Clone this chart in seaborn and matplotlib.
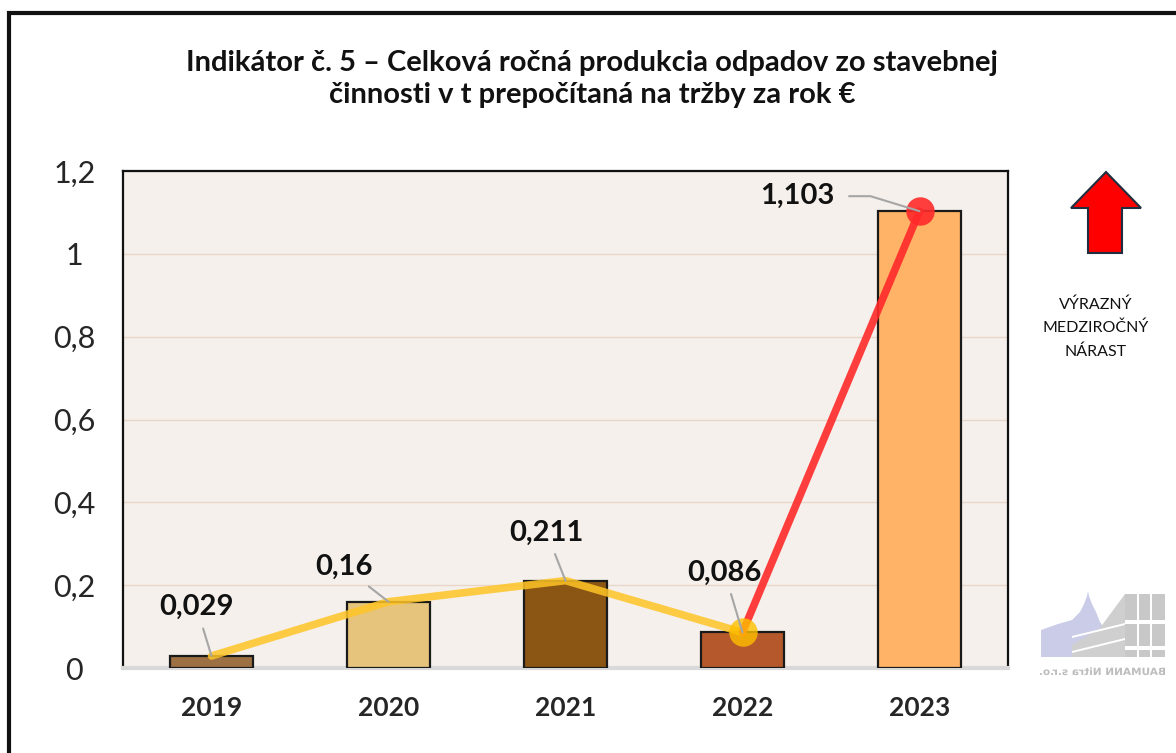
import matplotlib
matplotlib.use("Agg")
import matplotlib.pyplot as plt
import seaborn as sns
import pandas as pd
from matplotlib.patches import Polygon, Rectangle, PathPatch
from matplotlib.textpath import TextPath
from matplotlib.font_manager import FontProperties
from matplotlib.transforms import Affine2D

years = ["2019", "2020", "2021", "2022", "2023"]
values = [0.029, 0.16, 0.211, 0.086, 1.103]
labels = ["0,029", "0,16", "0,211", "0,086", "1,103"]
bar_colors = ["#9C7042", "#E6C47C", "#8B5514", "#B5582B", "#FFB366"]
yticks = [0, 0.2, 0.4, 0.6, 0.8, 1.0, 1.2]
ytick_labels = ["0", "0,2", "0,4", "0,6", "0,8", "1", "1,2"]
title = "Indikátor č. 5 – Celková ročná produkcia odpadov zo stavebnej\nčinnosti v t prepočítaná na tržby za rok €"
side_note = "VÝRAZNÝ\nMEDZIROČNÝ\nNÁRAST"
logo_text = "BAUMANN Nitra s.r.o."

sns.set_theme(style="white")
plt.rcParams["font.family"] = ["Lato", "DejaVu Sans"]

df = pd.DataFrame({"year": years, "value": values})

fig = plt.figure(figsize=(11.76, 7.53), dpi=100)
W, H = 1176, 753
ax = fig.add_axes([123 / W, 1 - 668 / H, (1008 - 123) / W, (668 - 171) / H])
ax.set_facecolor("#F5F0EB")

sns.barplot(data=df, x="year", y="value", hue="year", palette=bar_colors,
            legend=False, edgecolor="#1a1a1a", linewidth=1.6, width=0.47,
            saturation=1, ax=ax, zorder=3)

# trend lines
xs = list(range(len(years)))
sns.lineplot(x=xs[:4], y=values[:4], color="#FFC425", alpha=0.85, linewidth=5.5,
             ax=ax, zorder=4, solid_capstyle="round")
sns.lineplot(x=xs[3:], y=values[3:], color="#FF2A2A", alpha=0.9, linewidth=5.5,
             ax=ax, zorder=5, solid_capstyle="round")
ax.scatter([xs[3]], [values[3]], s=420, color="#FFC000", alpha=0.8, zorder=6, linewidths=0)
ax.scatter([xs[4]], [values[4]], s=420, color="#FF2A2A", alpha=0.9, zorder=6, linewidths=0)

ax.set_xlim(-0.5, 4.5)
ax.set_ylim(0, 1.2)
ax.set_yticks(yticks)
ax.set_yticklabels(ytick_labels, fontsize=22)
ax.set_xticks(xs)
ax.set_xticklabels(years, fontsize=19, fontweight="bold")
ax.tick_params(axis="x", pad=20, length=0)
ax.tick_params(axis="y", pad=35, length=0)
for lab in ax.get_yticklabels():
    lab.set_horizontalalignment("center")
ax.set_xlabel("")
ax.set_ylabel("")
ax.grid(axis="y", color="#E8D6C9", linewidth=1, zorder=0)
ax.set_axisbelow(True)

for s in ["top", "left", "right"]:
    ax.spines[s].set_color("#111111")
    ax.spines[s].set_linewidth(1.6)
ax.spines["bottom"].set_color("#D9D9D9")
ax.spines["bottom"].set_linewidth(3)

# data labels with leader lines
offsets = [(-15, 49), (-45, 35), (-19, 48), (-18, 60), (-122, 15)]
for i, (x, v, lab, (dx, dy)) in enumerate(zip(xs, values, labels, offsets)):
    props = dict(arrowstyle="-", color="#A6A6A6", lw=1.5, shrinkA=4, shrinkB=0)
    if i == len(xs) - 1:
        props.update(relpos=(1.0, 0.5), connectionstyle="angle,angleA=0,angleB=-17,rad=0",
                     shrinkA=8)
    ax.annotate(lab, xy=(x, v), xytext=(dx, dy), textcoords="offset pixels",
                ha="center", va="center", fontsize=21, fontweight="bold",
                color="#111111", zorder=8, arrowprops=props)

fig.text(592 / W, 1 - 79 / H, title, ha="center", va="center", fontsize=21,
         fontweight="bold", color="#111111", linespacing=1.3)

# outer frame
fig.patches.append(Rectangle((9 / W, -0.05), 1.2, 1 - 13 / H + 0.05,
                             transform=fig.transFigure, fill=False,
                             edgecolor="#111111", linewidth=3))

px2fig = Affine2D().scale(1 / W, 1 / H) + fig.transFigure


def poly_px(pts, **kw):
    fig.patches.append(Polygon([(px, H - py) for px, py in pts], closed=True,
                               transform=px2fig, **kw))


# red arrow
poly_px([(1106, 172), (1141, 208), (1122, 208), (1122, 253), (1088, 253),
         (1088, 208), (1071, 208)],
        facecolor="#FF0000", edgecolor="#1F2F3F", linewidth=1.5)
fig.text(1096 / W, 1 - 328 / H, side_note, ha="center", va="center",
         fontsize=11.5, color="#111111", linespacing=1.8)

# simple logo shapes
poly_px([(1041, 657), (1041, 630), (1058, 624), (1072, 620), (1080, 612),
         (1084, 604), (1087, 596), (1088, 591), (1089, 596), (1092, 604),
         (1096, 612), (1100, 622), (1104, 628), (1104, 657)],
        facecolor="#CACCE8", edgecolor="none")
bands = [(594, 620), (624, 646), (650, 657)]
for y0, y1 in bands:
    poly_px([(1125, y0), (1165, y0), (1165, y1), (1125, y1)],
            facecolor="#C8C8C8", edgecolor="none")
    for xc in [1137, 1150]:
        poly_px([(xc, y0), (xc + 2, y0), (xc + 2, y1), (xc, y1)],
                facecolor="white", edgecolor="none")
poly_px([(1072, 657), (1072, 645), (1100, 628), (1125, 594), (1125, 657)],
        facecolor="#CFCFCF", edgecolor="none")
for yy in [633, 648]:
    poly_px([(1072, yy + 3), (1125, yy - 10), (1125, yy - 8), (1072, yy + 5)],
            facecolor="white", edgecolor="none")

tp = TextPath((0, 0), logo_text, size=10,
              prop=FontProperties(family="DejaVu Sans", weight="bold"))
ext = tp.get_extents()
sx = 125 / ext.width
tr = Affine2D().translate(-ext.x0, 0).scale(-sx, 1.0).translate(1165, H - 675) + px2fig
fig.patches.append(PathPatch(tp, transform=tr, facecolor="#BDBDBD", edgecolor="none"))

fig.savefig("out.png", dpi=100, facecolor="white")
